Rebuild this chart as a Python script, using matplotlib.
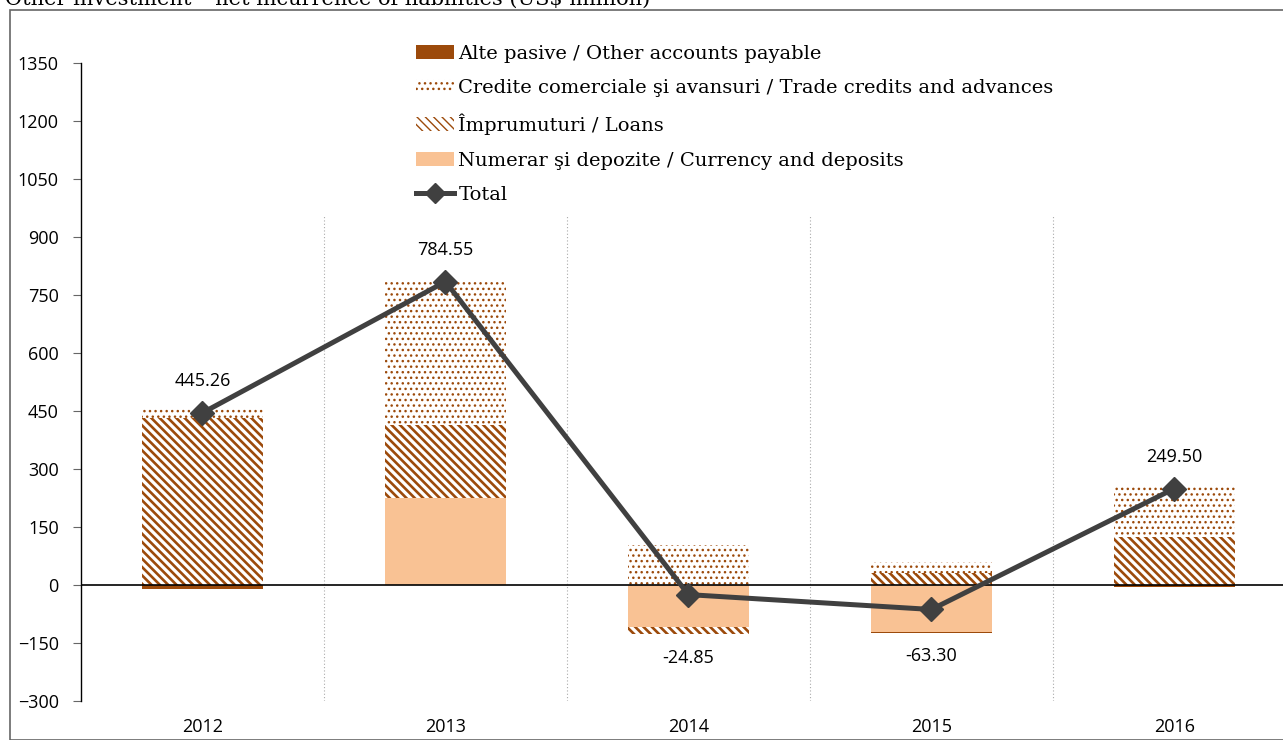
import matplotlib.pyplot as plt
from matplotlib.patches import Rectangle
import numpy as np

# date (US$ million)
years = ["2012", "2013", "2014", "2015", "2016"]
currency = [0.0, 226.0, -108.0, -120.3, 0.0]
loans = [432.0, 188.0, -18.0, 31.0, 125.0]
trade = [23.26, 370.55, 103.0, 29.0, 128.5]
other = [-10.0, 0.0, -1.85, -3.0, -4.0]
total = [445.26, 784.55, -24.85, -63.30, 249.50]

brown = "#9C4A0B"
peach = "#F9C294"
dark = "#404040"
sans = ["Open Sans", "DejaVu Sans"]
serif = ["DejaVu Serif"]

fig = plt.figure(figsize=(12.83, 7.4), dpi=100)
W, H = 1283, 740
ax = fig.add_axes([81 / W, 1 - 701 / H, (1283 - 81) / W, (701 - 63) / H])

x = np.arange(len(years))
pos = np.zeros(len(years))
neg = np.zeros(len(years))

series = [
    (currency, dict(color=peach, lw=0), 1.0, "Numerar şi depozite / Currency and deposits"),
    (loans, dict(facecolor="white", edgecolor=brown, hatch="\\\\\\\\", lw=0), 1.9,
     "Împrumuturi / Loans"),
    (trade, dict(facecolor="white", edgecolor=brown, hatch="...", lw=0), 1.0,
     "Credite comerciale şi avansuri / Trade credits and advances"),
    (other, dict(color=brown, lw=0), 1.0, "Alte pasive / Other accounts payable"),
]
handles = {}
for vals, style, hlw, label in series:
    plt.rcParams["hatch.linewidth"] = hlw
    vals = np.array(vals)
    bottom = np.where(vals >= 0, pos, neg)
    b = ax.bar(x, vals, 0.5, bottom=bottom, label=label, zorder=2, **style)
    handles[label] = b
    pos = pos + np.where(vals >= 0, vals, 0)
    neg = neg + np.where(vals < 0, vals, 0)

ln, = ax.plot(x, total, color=dark, lw=3.6, marker="D", markersize=12,
              label="Total", zorder=4, solid_joinstyle="round")

for i, v in enumerate(total):
    if v >= 0:
        ax.annotate(f"{v:.2f}", (x[i], v), xytext=(0, 23), textcoords="offset points",
                    ha="center", va="center", fontsize=13, family=sans)
    else:
        ax.annotate(f"{v:.2f}", (x[i], neg[i]), xytext=(0, -17), textcoords="offset points",
                    ha="center", va="center", fontsize=13, family=sans)

ax.axhline(0, color="black", lw=1.2, zorder=3)
ax.vlines([0.5, 1.5, 2.5, 3.5], -300, 957, color="#AAAAAA", lw=0.8,
          linestyles=[(0, (1, 2))], zorder=1)

ax.set_xlim(-0.5, 4.447)
ax.set_ylim(-300, 1350)
ax.set_yticks(np.arange(-300, 1351, 150))
ax.set_xticks(x)
ax.set_xticklabels(years)
ax.tick_params(axis="x", length=0, pad=12)
ax.tick_params(axis="y", length=6, width=0.8, color="#666666", direction="out", pad=10)
for lab in ax.get_xticklabels() + ax.get_yticklabels():
    lab.set_family(sans)
    lab.set_fontsize(13)
for s in ["top", "right", "bottom"]:
    ax.spines[s].set_visible(False)
ax.spines["left"].set_linewidth(1.0)

order = ["Alte pasive / Other accounts payable",
         "Credite comerciale şi avansuri / Trade credits and advances",
         "Împrumuturi / Loans",
         "Numerar şi depozite / Currency and deposits"]
leg = fig.legend([handles[k] for k in order] + [ln], order + ["Total"],
                 loc="upper left", bbox_to_anchor=(400 / W, 1 - 29 / H),
                 prop={"family": serif, "size": 14}, frameon=False,
                 handlelength=2.0, handleheight=0.7, markerscale=0.85,
                 handletextpad=0.2, labelspacing=0.85, borderpad=0.3)
leg.set_zorder(5)

fig.patches.append(Rectangle((10 / W, 0), 1.2, 1 - 10 / H, transform=fig.transFigure,
                             fill=False, edgecolor="#666666", lw=1.2))
fig.text(5 / W, 1 - 5 / H, "Other investment – net incurrence of liabilities (US$ million)",
         family=serif, fontsize=15, va="baseline", ha="left")

fig.savefig("out.png", dpi=100)
